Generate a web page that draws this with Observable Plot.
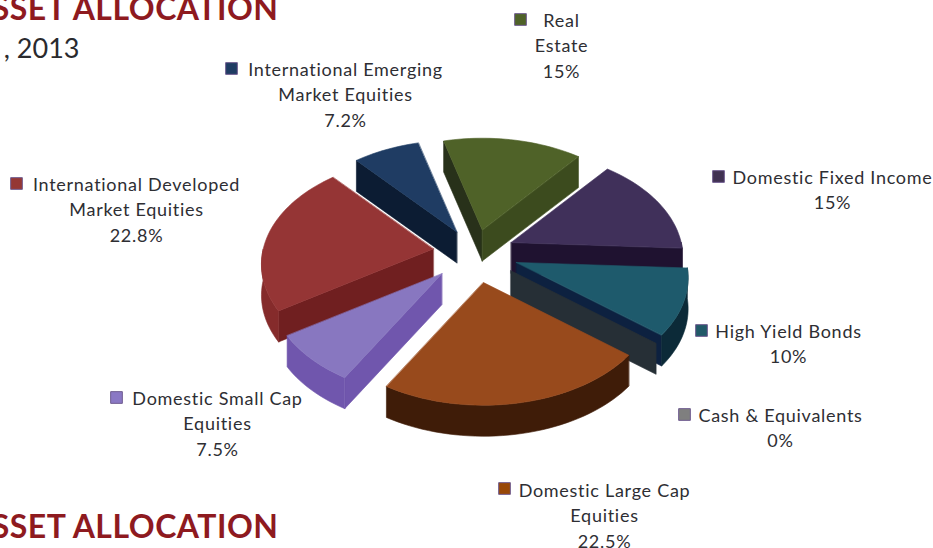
<!DOCTYPE html>
<html><head><meta charset="utf-8">
<style>html,body{margin:0;padding:0;background:#fff;overflow:hidden}svg{display:block}</style>
<script src="https://cdn.jsdelivr.net/npm/d3@7"></script>
<script src="https://cdn.jsdelivr.net/npm/@observablehq/plot@0.6"></script>
</head><body><div id="chart"></div>
<script>
// Data (pie order, clockwise from Real Estate)
const names = ["Real\nEstate","Domestic Fixed Income","High Yield Bonds","Cash & Equivalents","Domestic Large Cap\nEquities","Domestic Small Cap\nEquities","International Developed\nMarket Equities","International Emerging\nMarket Equities"];
const shares = [15,15,10,0,22.5,7.5,22.8,7.2];
const shareLabels = ["15%","15%","10%","0%","22.5%","7.5%","22.8%","7.2%"];

// Colours per slice
const keyColors  = ["#4f6228","#403152","#215968","#7f7f7f","#984807","#8a78c4","#953735","#1f3c63"];
const topColors  = ["#4f6228","#40305a","#1e5a6c","#262f36","#984a1c","#8877c0","#953535","#1f3c63"];
const faceStart  = ["#28311a","#1f1230","#0c2038","#262f36","#3f1c08","#7056ad","#701f20","#0c1c33"];
const faceEnd    = ["#3c4b1e","#1f1230","#0d2140","#262f36","#3f1c08","#7056ad","#701f20","#0c1c33"];
const wallColors = ["#3c4b1e","#1f1230","#0c2a38","#262f36","#3f1c08","#7056ad","#852b2b","#0c1c33"];

// Pie geometry
const startAngle = -15, cx = 474, cy = 252, rx = 170, ry = 105, persp = 0.144, explode = 0.25, depth = 31;
const drawOrder = [7,0,1,6,2,3,5,4];

// Layout of labels (centre of text block, first line) and key squares
const labelX = [561,832,788,780,604,217,136,345];
const labelY = [8,165,319,403,478,386,172,57];
const keyX   = [520,718,701,684,504,116,16,231];
const keyY   = [19,176,330,414,488,397,183,68];

const rad = d => d * Math.PI / 180;
const proj = (deg, r = 1) => {
  const s = Math.sin(rad(deg)), c = Math.cos(rad(deg)), q = 1 + persp * c;
  return [r * rx * s / q, -r * ry * c / q];
};

const total = d3.sum(shares);
let acc = startAngle;
const slices = shares.map((v, i) => {
  const a0 = acc, a1 = acc + v / total * 360;
  acc = a1;
  const off = proj((a0 + a1) / 2, explode);
  return {i, a0, a1, ax: cx + off[0], ay: cy + off[1]};
});

const polys = [];
let pid = 0;
const add = (pts, color) => { const id = pid++; pts.forEach(p => polys.push({id, x: p[0], y: p[1], color})); };
const rim = (s, deg, dz = 0) => { const p = proj(deg); return [s.ax + p[0], s.ay + p[1] + dz]; };
const arc = (s, a, b, dz = 0) => {
  const n = Math.max(2, Math.ceil(Math.abs(b - a) / 2));
  return d3.range(n + 1).map(k => rim(s, a + (b - a) * k / n, dz));
};
const face = (s, deg, color) => add([[s.ax, s.ay], rim(s, deg), rim(s, deg, depth), [s.ax, s.ay + depth]], color);

drawOrder.forEach(i => {
  const s = slices[i];
  if (Math.cos(rad(s.a0 - 90)) < 0) face(s, s.a0, faceStart[i]);
  if (Math.cos(rad(s.a1 + 90)) < 0) face(s, s.a1, faceEnd[i]);
  const w0 = Math.max(s.a0, 90), w1 = Math.min(s.a1, 270);
  if (w1 > w0) add([...arc(s, w0, w1), ...arc(s, w1, w0, depth)], wallColors[i]);
  if (s.a1 > s.a0) add([[s.ax, s.ay], ...arc(s, s.a0, s.a1)], topColors[i]);
});

const labels = names.map((n, i) => ({text: n + "\n" + shareLabels[i], x: labelX[i], y: labelY[i]}));
const keys = names.map((n, i) => ({x: keyX[i], y: keyY[i], color: keyColors[i]}));
const titles = [
  {text: "ASSET ALLOCATION", x: 278, y: 19},
  {text: "ASSET ALLOCATION", x: 278, y: 537}
];
const subtitle = [{text: ", 2013", x: 79, y: 57}];

const chart = Plot.plot({
  width: 933, height: 548, margin: 0,
  x: {domain: [0, 933], range: [0, 933], axis: null},
  y: {domain: [0, 548], range: [0, 548], axis: null},
  color: {type: "identity"},
  style: {background: "#fff", overflow: "hidden"},
  marks: [
    Plot.line(polys, {x: "x", y: "y", z: "id", fill: "color", stroke: "color", strokeWidth: 0.6, curve: "linear-closed"}),
    Plot.dot(keys, {x: "x", y: "y", fill: "color", symbol: "square", r: 6.6, stroke: "#6f5c90", strokeWidth: 1}),
    Plot.text(labels, {x: "x", y: "y", text: "text", lineAnchor: "top", lineHeight: 1.42, fontSize: 18, fontFamily: "Lato", fill: "#2e2e33", textAnchor: "middle"}),
    Plot.text(titles, {x: "x", y: "y", text: "text", textAnchor: "end", lineAnchor: "bottom", fontSize: 32, fontWeight: 700, fontFamily: "Lato", fill: "#8e1a1f"}),
    Plot.text(subtitle, {x: "x", y: "y", text: "text", textAnchor: "end", lineAnchor: "bottom", fontSize: 27, fontFamily: "Lato", fill: "#2a2a2e"})
  ]
});
// Letter spacing per text size
d3.select(chart).selectAll("text").each(function () {
  const fs = parseFloat(this.getAttribute("font-size") || 0);
  const own = this.closest("[font-size]");
  const size = fs || parseFloat(own ? own.getAttribute("font-size") : 0);
  this.style.letterSpacing = size === 18 ? "0.72px" : size === 32 ? "0.5px" : "0";
});
document.getElementById("chart").append(chart);
</script></body></html>
